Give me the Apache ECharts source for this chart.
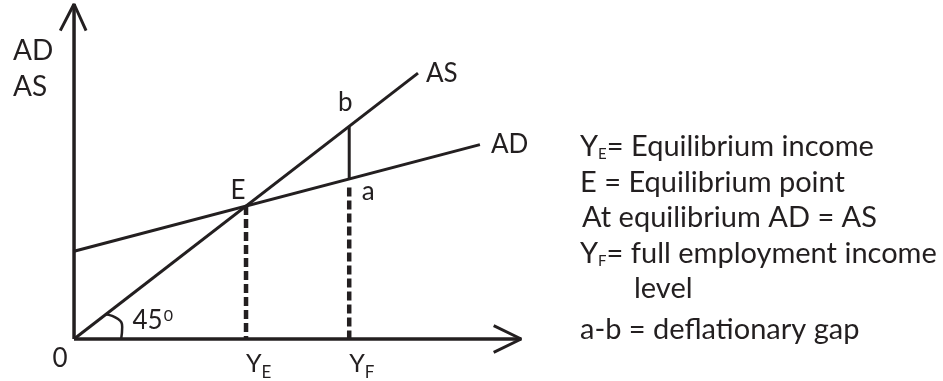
<!DOCTYPE html>
<html>
<head>
<meta charset="utf-8">
<script src="https://cdn.jsdelivr.net/npm/echarts@6/dist/echarts.min.js"></script>
<style>
  html, body { margin: 0; padding: 0; background: #fff; }
  #chart { width: 943px; height: 381px; }
</style>
</head>
<body>
<div id="chart"></div>
<script>
// axes drawn as lines so the open arrow heads join them
var xAxisLine = [[0, 0], [130, 0]];
var yAxisLine = [[0, 0], [0, 126]];
var xArrow = [[122, 5], [130, 0], [122, -5]];
var yArrow = [[-4, 116], [0, 126], [3.5, 116]];
// AS is the 45 degree line, AD the flatter aggregate demand line
var asLine = [[0, 0], [100, 100]];
var adLine = [[0, 33], [118, 73.1]];
var pointE = [50, 50];
var pointB = [80, 80];
var pointA = [80, 60.2];
var gapLine = [pointB, pointA];
var yeDrop = [[50, 50], [50, 0]];
var yfDrop = [[80, 57], [80, 0]];
var angleArc = [[9.0, 9.3], [12.8, 7.5], [14.0, 4.5], [13.7, 0]];
// x axis tick positions and their subscripts
var xTicks = [50, 80];
var xTickSubs = ['E', 'F'];
// notes on the right
var notes = [
  '{t|Y}{s|E}{t|= Equilibrium income}',
  '{t|E = Equilibrium point}',
  '{t|At equilibrium AD = AS}',
  '{t|Y}{s|F}{t|= full employment income}',
  '{t|level}',
  '{t|a-b = deflationary gap}'
];
var noteY = [147, 183, 218, 254, 289, 330];
var noteX = [580, 580, 582, 580, 634, 580];

var FONT = 'Lato';
var INK = '#231f20';

var chart = echarts.init(document.getElementById('chart'));

function seg(name, data, extra) {
  var s = {
    name: name,
    type: 'line',
    data: data,
    symbol: 'none',
    clip: false,
    silent: true,
    lineStyle: { color: INK, width: 3 }
  };
  for (var k in extra) s[k] = extra[k];
  return s;
}

var richText = {
  t: { fontSize: 29, fontFamily: FONT, color: INK },
  s: { fontSize: 15, fontFamily: FONT, color: INK, padding: [14, 0, 0, 0] }
};

var option = {
  animation: false,
  backgroundColor: '#fff',
  title: {
    text: 'AD\nAS',
    left: 8,
    top: 28,
    textStyle: { fontSize: 28, fontWeight: 'normal', fontFamily: FONT, color: INK, lineHeight: 36 }
  },
  grid: { left: 53.4, right: 421.8, top: 4, bottom: 39 },
  xAxis: {
    type: 'value',
    min: -6,
    max: 130,
    axisLine: { show: false, onZero: false },
    axisTick: { show: false },
    splitLine: { show: false },
    axisLabel: {
      customValues: xTicks,
      align: 'left',
      margin: 7,
      formatter: function (v) {
        return '{y|Y}{s|' + xTickSubs[xTicks.indexOf(v)] + '}';
      },
      rich: {
        y: { fontSize: 25, fontFamily: FONT, color: INK },
        s: { fontSize: 17, fontFamily: FONT, color: INK, padding: [18, 0, 0, 0] }
      }
    }
  },
  yAxis: {
    type: 'value',
    min: 0,
    max: 126,
    axisLine: { show: false, onZero: false },
    axisTick: { show: false },
    splitLine: { show: false },
    axisLabel: { show: false }
  },
  series: [
    seg('xAxisLine', xAxisLine, { lineStyle: { color: INK, width: 3.5 } }),
    seg('yAxisLine', yAxisLine, { lineStyle: { color: INK, width: 3.5 } }),
    seg('xArrow', xArrow),
    seg('yArrow', yArrow),
    seg('AS', asLine, {
      endLabel: { show: true, formatter: 'AS', distance: 8, fontSize: 26, fontFamily: FONT, color: INK }
    }),
    seg('AD', adLine, {
      endLabel: { show: true, formatter: 'AD', distance: 11, fontSize: 26, fontFamily: FONT, color: INK }
    }),
    seg('gap', gapLine),
    seg('YE', yeDrop, { lineStyle: { color: INK, width: 4.5, type: [9, 4] } }),
    seg('YF', yfDrop, { lineStyle: { color: INK, width: 4.5, type: [9, 4] } }),
    seg('arc', angleArc, { smooth: true, lineStyle: { color: INK, width: 2.5 } }),
    {
      name: 'labels',
      type: 'scatter',
      symbolSize: 0,
      silent: true,
      itemStyle: { opacity: 1 },
      label: { show: true, position: 'inside', fontSize: 26, fontFamily: FONT, color: INK },
      data: [
        { value: [0, 0], label: { formatter: '0', offset: [-14, 20] } },
        { value: pointE, label: { formatter: 'E', offset: [-8, -15] } },
        { value: pointB, label: { formatter: 'b', offset: [-4, -24] } },
        { value: pointA, label: { formatter: 'a', offset: [19, 13] } },
        {
          value: [17, 7],
          label: {
            align: 'left',
            formatter: '{n|45}{u|0}',
            rich: {
              n: { fontSize: 26, fontFamily: FONT, color: INK },
              u: { fontSize: 16, fontFamily: FONT, color: INK, padding: [0, 0, 10, 1] }
            }
          }
        }
      ]
    }
  ],
  graphic: notes.map(function (txt, i) {
    return {
      type: 'text',
      x: noteX[i],
      y: noteY[i],
      silent: true,
      style: {
        text: txt,
        verticalAlign: 'middle',
        fill: INK,
        font: '29px "' + FONT + '"',
        rich: richText
      }
    };
  })
};

chart.setOption(option);
</script>
</body>
</html>
